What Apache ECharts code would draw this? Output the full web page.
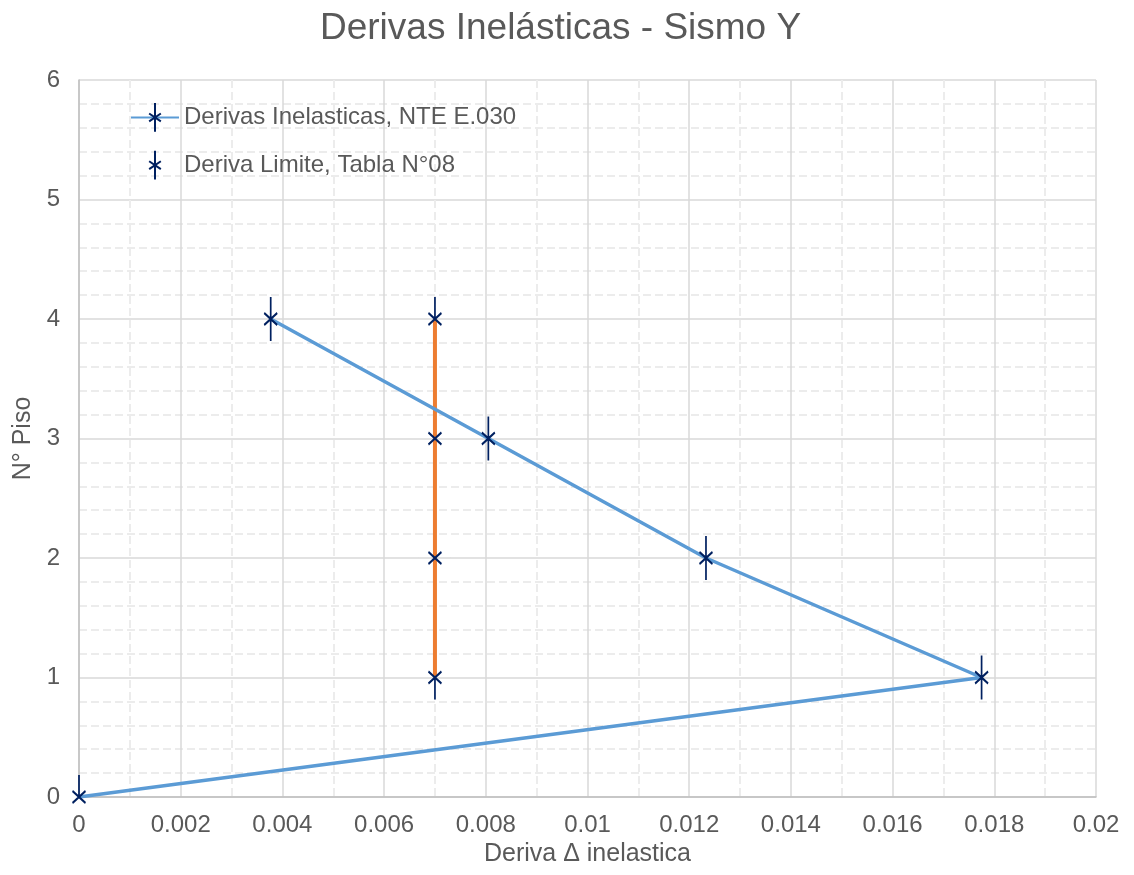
<!DOCTYPE html>
<html>
<head>
<meta charset="utf-8">
<script src="https://cdn.jsdelivr.net/npm/echarts@6/dist/echarts.min.js"></script>
<style>
html,body{margin:0;padding:0;background:#fff;}
#chart{width:1134px;height:875px;}
</style>
</head>
<body>
<div id="chart"></div>
<script>
// ---- data ----
var titleText = 'Derivas Inelásticas - Sismo Y';
var seriesNames = ['Derivas Inelasticas, NTE E.030', 'Deriva Limite, Tabla N°08'];
var derivaX = [0, 0.01775, 0.01233, 0.00805, 0.00377];
var derivaPiso = [0, 1, 2, 3, 4];
var limiteX = [0.007, 0.007, 0.007, 0.007];
var limitePiso = [1, 2, 3, 4];
var xAxisName = 'Deriva Δ inelastica';
var yAxisName = 'N° Piso';

// ---- marker shapes (asterisk variants) ----
var B = 'M0,22L0.01,22M32,22L31.99,22';
var X = 'M9.5,16L22.5,28M22.5,16L9.5,28';
var SYM = {
  full: 'path://' + B + X + 'M16,0L16,44',
  up: 'path://' + B + X + 'M16,0L16,22M16,44L16,43.99',
  down: 'path://' + B + X + 'M16,22L16,44M16,0L16,0.01',
  none: 'path://' + B + X + 'M16,0L16,0.01M16,44L16,43.99'
};
var derivaSym = ['up', 'full', 'full', 'full', 'full'];
var limiteSym = ['down', 'none', 'none', 'up'];

function build(xs, ys, syms) {
  return xs.map(function (x, i) {
    return { value: [x, ys[i]], symbol: SYM[syms[i]] };
  });
}

var txt = '#595959';
var font = '"Liberation Sans", Arial, sans-serif';
var markStyle = { color: '#002060', borderColor: '#002060', borderWidth: 2 };

var chart = echarts.init(document.getElementById('chart'), null, { renderer: 'canvas' });
chart.setOption({
  animation: false,
  backgroundColor: '#ffffff',
  textStyle: { fontFamily: font },
  title: {
    text: titleText,
    left: 320,
    top: 10,
    padding: 0,
    textStyle: { color: txt, fontSize: 37, fontWeight: 'normal', fontFamily: font }
  },
  legend: {
    orient: 'vertical',
    left: 130,
    top: 102,
    padding: 0,
    itemWidth: 48,
    itemHeight: 36,
    itemGap: 17,
    selectedMode: false,
    textStyle: { color: txt, fontSize: 24, fontFamily: font },
    data: [
      { name: seriesNames[0] },
      { name: seriesNames[1], lineStyle: { opacity: 0 } }
    ]
  },
  grid: { left: 79, right: 38, top: 80, bottom: 78, containLabel: false },
  xAxis: {
    type: 'value',
    min: 0, max: 0.02, interval: 0.002,
    name: xAxisName,
    nameLocation: 'middle',
    nameGap: 42,
    nameTextStyle: { color: txt, fontSize: 25, fontFamily: font },
    axisLine: { show: true, lineStyle: { color: '#bfbfbf', width: 1.5 } },
    axisTick: { show: false },
    minorTick: { show: false, splitNumber: 2 },
    axisLabel: { color: txt, fontSize: 24, margin: 16, fontFamily: font },
    splitLine: { show: true, lineStyle: { color: '#d9d9d9', width: 1.5 } },
    minorSplitLine: { show: true, lineStyle: { color: '#ececec', width: 2, type: [8, 4] } }
  },
  yAxis: {
    type: 'value',
    min: 0, max: 6, interval: 1,
    name: yAxisName,
    nameLocation: 'middle',
    nameGap: 41,
    nameTextStyle: { color: txt, fontSize: 25, fontFamily: font },
    axisLine: { show: true, lineStyle: { color: '#bfbfbf', width: 1.5 } },
    axisTick: { show: false },
    minorTick: { show: false, splitNumber: 5 },
    axisLabel: { color: txt, fontSize: 24, margin: 19, fontFamily: font },
    splitLine: { show: true, lineStyle: { color: '#d9d9d9', width: 1.5 } },
    minorSplitLine: { show: true, lineStyle: { color: '#ececec', width: 2, type: [8, 4] } }
  },
  series: [
    {
      name: seriesNames[1],
      type: 'line',
      data: build(limiteX, limitePiso, limiteSym),
      symbol: SYM.full,
      symbolSize: [32, 44],
      lineStyle: { color: '#ED7D31', width: 4 },
      itemStyle: markStyle,
      emphasis: { disabled: true },
      z: 2
    },
    {
      name: seriesNames[0],
      type: 'line',
      data: build(derivaX, derivaPiso, derivaSym),
      symbol: SYM.full,
      symbolSize: [32, 44],
      lineStyle: { color: '#5B9BD5', width: 3.5 },
      itemStyle: markStyle,
      emphasis: { disabled: true },
      z: 3
    }
  ]
});
</script>
</body>
</html>
